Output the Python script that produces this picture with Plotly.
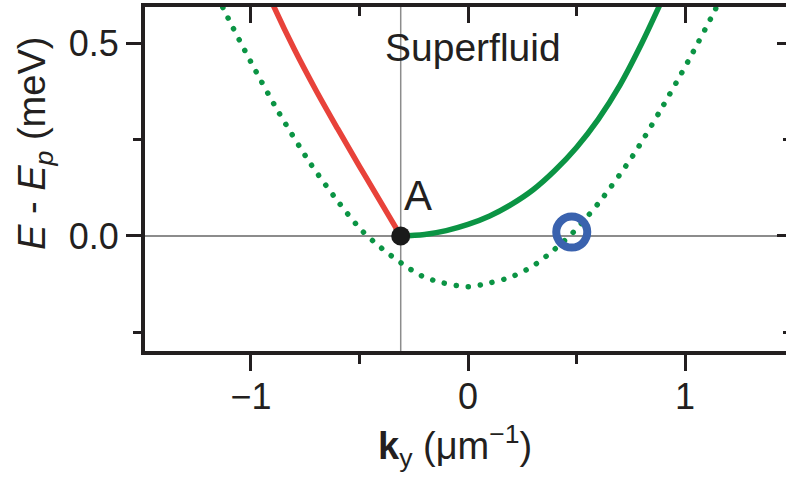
import plotly.graph_objects as go

# ---- data ----
pointA_k = -0.31
pointA_E = 0.0
circle_k = 0.478
circle_E = 0.01

red_k = [-0.95, -0.90, -0.80, -0.70, -0.60, -0.50, -0.40, -0.31]
red_E = [0.668, 0.603, 0.485, 0.378, 0.278, 0.181, 0.086, 0.0]

solid_k = [-0.31, -0.20, -0.10, 0.0, 0.10, 0.20, 0.30, 0.40, 0.50, 0.60,
           0.70, 0.80, 0.88, 0.93]
solid_E = [0.0, 0.004, 0.014, 0.030, 0.052, 0.082, 0.120, 0.170, 0.230,
           0.303, 0.392, 0.500, 0.596, 0.658]

dot_k = [-1.20, -1.120, -1.001, -0.874, -0.728, -0.613, -0.494, -0.398, -0.306,
         -0.213, -0.115, 0.0, 0.101, 0.201, 0.294, 0.386, 0.484, 0.608, 0.759,
         0.885, 1.015, 1.138, 1.20]
dot_E = [0.68, 0.583, 0.453, 0.323, 0.190, 0.100, 0.017, -0.032, -0.071,
         -0.104, -0.122, -0.132, -0.122, -0.106, -0.080, -0.041, 0.009, 0.090,
         0.208, 0.325, 0.455, 0.587, 0.66]

x_major = [-1, 0, 1]
x_major_text = ["\u22121", "0", "1"]
x_minor = [-0.5, 0.5]
y_major = [0.0, 0.5]
y_major_text = ["0.0", "0.5"]
y_minor = [-0.25, 0.25]

x_range = [-1.488, 1.465]
y_range = [-0.299, 0.595]

INK = "#231f20"
GREEN = "#0b9444"
RED = "#e8423a"
BLUE = "#3a62ae"
GRID = "#8c8c8c"
FONT = "Liberation Sans"

fig = go.Figure()

fig.add_trace(go.Scatter(x=dot_k, y=dot_E, mode="lines", name="dotted",
                         line=dict(color=GREEN, width=5.5, dash="5px,7px",
                                   shape="spline", smoothing=0.8),
                         hoverinfo="skip", showlegend=False))
fig.add_trace(go.Scatter(x=red_k, y=red_E, mode="lines",
                         line=dict(color=RED, width=5.5, shape="spline", smoothing=1.0),
                         hoverinfo="skip", showlegend=False))
fig.add_trace(go.Scatter(x=solid_k, y=solid_E, mode="lines",
                         line=dict(color=GREEN, width=5.5, shape="spline", smoothing=1.0),
                         hoverinfo="skip", showlegend=False))
fig.add_trace(go.Scatter(x=[circle_k], y=[circle_E], mode="markers",
                         marker=dict(symbol="circle", size=31, color="rgba(0,0,0,0)",
                                     line=dict(width=8, color=BLUE)),
                         hoverinfo="skip", showlegend=False))
fig.add_trace(go.Scatter(x=[pointA_k], y=[pointA_E], mode="markers",
                         marker=dict(symbol="circle", size=19, color="#1a1a1a"),
                         hoverinfo="skip", showlegend=False))
# invisible traces to activate mirror axes
fig.add_trace(go.Scatter(x=[0], y=[0], xaxis="x2", yaxis="y", mode="markers",
                         marker=dict(opacity=0), hoverinfo="skip", showlegend=False))
fig.add_trace(go.Scatter(x=[0], y=[0], xaxis="x", yaxis="y2", mode="markers",
                         marker=dict(opacity=0), hoverinfo="skip", showlegend=False))

# vertical grey line through point A
fig.add_shape(type="line", xref="x", yref="paper", x0=pointA_k, x1=pointA_k,
              y0=0, y1=1, line=dict(color=GRID, width=1.5), layer="below")

tickfont = dict(family=FONT, size=36, color=INK)

fig.update_layout(
    width=786, height=478,
    margin=dict(l=145, r=0, t=7, b=127),
    paper_bgcolor="white", plot_bgcolor="white",
    font=dict(family=FONT, color=INK),
    xaxis=dict(range=x_range, showline=True, linewidth=4, linecolor=INK,
               ticks="outside", ticklen=16, tickwidth=3, tickcolor=INK,
               tickmode="array", tickvals=x_major, ticktext=x_major_text,
               tickfont=tickfont, showgrid=False, zeroline=False,
               ticklabelstandoff=-5,
               minor=dict(tickmode="array", tickvals=x_minor, ticks="outside",
                          ticklen=9, tickwidth=3, tickcolor=INK)),
    xaxis2=dict(range=x_range, overlaying="x", side="top", showline=True,
                linewidth=4, linecolor=INK, ticks="inside", ticklen=16,
                tickwidth=3, tickcolor=INK, tickmode="array", tickvals=x_major,
                showticklabels=False, showgrid=False, zeroline=False,
                minor=dict(tickmode="array", tickvals=x_minor, ticks="inside",
                           ticklen=9, tickwidth=3, tickcolor=INK)),
    yaxis=dict(range=y_range, showline=True, linewidth=4, linecolor=INK,
               ticks="outside", ticklen=15, tickwidth=3, tickcolor=INK,
               tickmode="array", tickvals=y_major, ticktext=y_major_text,
               tickfont=tickfont, showgrid=False, zeroline=True,
               zerolinecolor=GRID, zerolinewidth=1.5,
               minor=dict(tickmode="array", tickvals=y_minor, ticks="outside",
                          ticklen=8, tickwidth=3, tickcolor=INK)),
    yaxis2=dict(range=y_range, overlaying="y", side="right", showline=False,
                ticks="inside", ticklen=9, tickwidth=3, tickcolor=INK,
                tickmode="array", tickvals=y_major, showticklabels=False,
                showgrid=False, zeroline=False,
                minor=dict(tickmode="array", tickvals=y_minor, ticks="inside",
                           ticklen=3, tickwidth=3, tickcolor=INK)),
    annotations=[
        dict(text="Superfluid", x=0.023, y=0.49, xref="x", yref="y",
             showarrow=False, font=dict(family=FONT, size=39, color=INK),
             xanchor="center", yanchor="middle"),
        dict(text="A", x=-0.23, y=0.105, xref="x", yref="y", showarrow=False,
             font=dict(family=FONT, size=42, color=INK),
             xanchor="center", yanchor="middle"),
        dict(text="<i>E</i> - <i>E<sub>p</sub></i> (meV)", x=-0.1716, y=0.602,
             xref="paper", yref="paper", showarrow=False, textangle=-90,
             font=dict(family=FONT, size=38, color=INK),
             xanchor="center", yanchor="middle"),
        dict(text="<b>k</b><sub>y</sub> (\u03bcm<sup>\u22121</sup>)", x=0.483,
             y=-0.276, xref="paper", yref="paper", showarrow=False,
             font=dict(family=FONT, size=38, color=INK),
             xanchor="center", yanchor="middle"),
    ],
)

round_dots = """
setTimeout(function(){
  var gd = document.getElementById('{plot_id}');
  var tr = gd.querySelectorAll('.scatterlayer .trace')[0];
  if (tr) {
    tr.querySelectorAll('path.js-line').forEach(function(p){
      p.style.strokeLinecap = 'round';
      p.style.strokeDasharray = '0.1px,12px';
    });
  }
}, 0);
"""

fig.write_html("out.html", post_script=round_dots)
